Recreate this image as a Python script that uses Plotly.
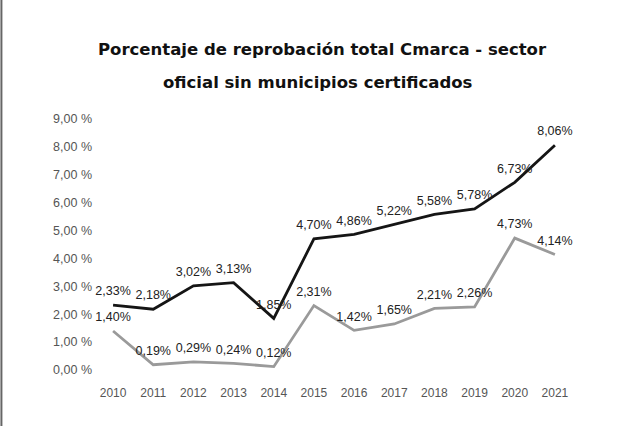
import plotly.graph_objects as go

years = ["2010", "2011", "2012", "2013", "2014", "2015",
         "2016", "2017", "2018", "2019", "2020", "2021"]
total_values = [2.33, 2.18, 3.02, 3.13, 1.85, 4.70, 4.86, 5.22, 5.58, 5.78, 6.73, 8.06]
other_values = [1.40, 0.19, 0.29, 0.24, 0.12, 2.31, 1.42, 1.65, 2.21, 2.26, 4.73, 4.14]
y_ticks = [0, 1, 2, 3, 4, 5, 6, 7, 8, 9]
y_tick_labels = ["0,00 %", "1,00 %", "2,00 %", "3,00 %", "4,00 %",
                 "5,00 %", "6,00 %", "7,00 %", "8,00 %", "9,00 %"]

title_lines = ["Porcentaje de reprobación total Cmarca - sector",
               "oficial sin municipios certificados"]

label_font = dict(family="Liberation Sans, Arial, sans-serif", size=12.5, color="#222222")
x_tick_font = dict(family="Liberation Sans, Arial, sans-serif", size=12, color="#555555")
y_tick_font = dict(family="Liberation Sans, Arial, sans-serif", size=12.5, color="#555555")
title_font = dict(family="DejaVu Sans, sans-serif", size=16.5, color="#111111", weight="bold")

fig = go.Figure()

# invisible markers push the value labels a bit above the line
for values, colour in [(total_values, "#151515"), (other_values, "#9a9a9a")]:
    fig.add_trace(go.Scatter(
        x=years, y=values, mode="lines+markers+text",
        line=dict(color=colour, width=2.8),
        marker=dict(size=9, color="rgba(0,0,0,0)"),
        texttemplate="%{y:.2f}%", textposition="top center",
        textfont=label_font, showlegend=False,
    ))

fig.update_layout(
    width=627, height=426,
    margin=dict(l=93, r=52, t=119, b=56),
    paper_bgcolor="white", plot_bgcolor="white",
    separators=",.",
)

# title as two lines so the spacing matches
fig.add_annotation(text=title_lines[0], xref="paper", yref="paper",
                   x=0.477, y=1.275, showarrow=False, font=title_font,
                   xanchor="center", yanchor="middle")
fig.add_annotation(text=title_lines[1], xref="paper", yref="paper",
                   x=0.467, y=1.147, showarrow=False, font=title_font,
                   xanchor="center", yanchor="middle")

fig.update_xaxes(
    type="category", range=[-0.5, 11.5], showgrid=False, zeroline=False,
    showline=False, ticks="", ticklabelstandoff=14, tickfont=x_tick_font,
)
fig.update_yaxes(
    range=[0, 9], tickvals=y_ticks, ticktext=y_tick_labels,
    showgrid=False, zeroline=False, showline=False, tickfont=y_tick_font,
)

# scanned page edge on the left
fig.add_shape(type="line", xref="paper", yref="paper",
              x0=-0.19, x1=-0.19, y0=-0.25, y1=1.5,
              line=dict(color="#666666", width=2))

fig.write_html("out.html", config={"displayModeBar": False},
               post_script="document.body.style.margin='0';")
